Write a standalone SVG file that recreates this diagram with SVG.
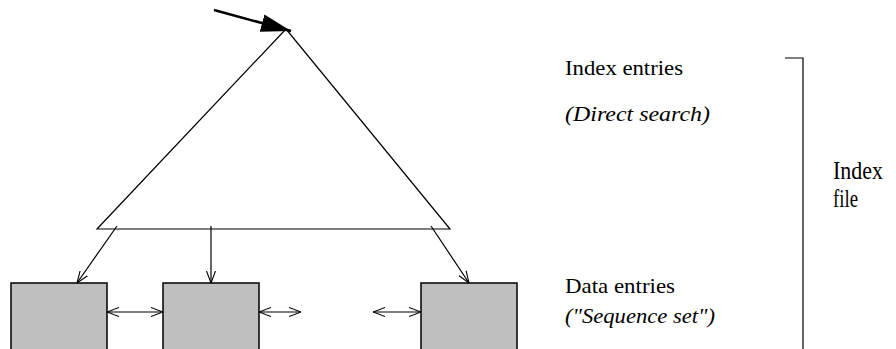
<svg xmlns="http://www.w3.org/2000/svg" width="896" height="349" viewBox="0 0 896 349">
<style>
.ln{stroke:#000;stroke-width:1.2;fill:none}
.box{fill:#bfbfbf;stroke:#000;stroke-width:1.5}
.t{font-family:"Liberation Serif","Times New Roman",Times,serif;fill:#000}
</style>
<defs>
<marker id="open" viewBox="0 0 12 10" refX="12" refY="5" markerWidth="12" markerHeight="10" markerUnits="userSpaceOnUse" orient="auto-start-reverse">
<path d="M0,0.5 L12,5 L0,9.5" fill="none" stroke="#000" stroke-width="1.1"/>
</marker>
<marker id="solid" viewBox="0 0 30 18" refX="30" refY="9" markerWidth="30" markerHeight="18" markerUnits="userSpaceOnUse" orient="auto">
<path d="M0,0 L30,9 L0,18 Z" fill="#000"/>
</marker>
</defs>
<g id="tree">
<path class="ln" d="M286,29 L97,229 L450,229 Z"/>
</g>
<g id="box1"><rect class="box" x="11" y="283" width="96" height="70"/></g>
<g id="box2"><rect class="box" x="163" y="283" width="96" height="70"/></g>
<g id="box3"><rect class="box" x="421" y="283" width="96" height="70"/></g>
<g id="connectors">
<line class="ln" x1="214" y1="10" x2="291" y2="31" style="stroke-width:2.5" marker-end="url(#solid)"/>
<line class="ln" x1="117" y1="226" x2="77" y2="283" marker-end="url(#open)"/>
<line class="ln" x1="211" y1="226" x2="211" y2="283" marker-end="url(#open)"/>
<line class="ln" x1="431" y1="226" x2="469" y2="283" marker-end="url(#open)"/>
<line class="ln" x1="107" y1="312" x2="163" y2="312" marker-start="url(#open)" marker-end="url(#open)"/>
<line class="ln" x1="259" y1="312" x2="301" y2="312" marker-start="url(#open)" marker-end="url(#open)"/>
<line class="ln" x1="373" y1="312" x2="421" y2="312" marker-start="url(#open)" marker-end="url(#open)"/>
</g>
<g id="bracket">
<path class="ln" d="M785,58 L803,58 L803,349"/>
</g>
<g id="labels">
<text class="t" x="565" y="75" font-size="21" textLength="118" lengthAdjust="spacingAndGlyphs">Index entries</text>
<text class="t" x="565" y="121" font-size="21" font-style="italic" textLength="145" lengthAdjust="spacingAndGlyphs">(Direct search)</text>
<text class="t" x="565" y="293" font-size="21" textLength="110" lengthAdjust="spacingAndGlyphs">Data entries</text>
<text class="t" x="565" y="323" font-size="21" font-style="italic" textLength="150" lengthAdjust="spacingAndGlyphs">("Sequence set")</text>
<text class="t" x="833" y="179" font-size="25" textLength="50" lengthAdjust="spacingAndGlyphs">Index</text>
<text class="t" x="833" y="207" font-size="25" textLength="25" lengthAdjust="spacingAndGlyphs">file</text>
</g>
</svg>
